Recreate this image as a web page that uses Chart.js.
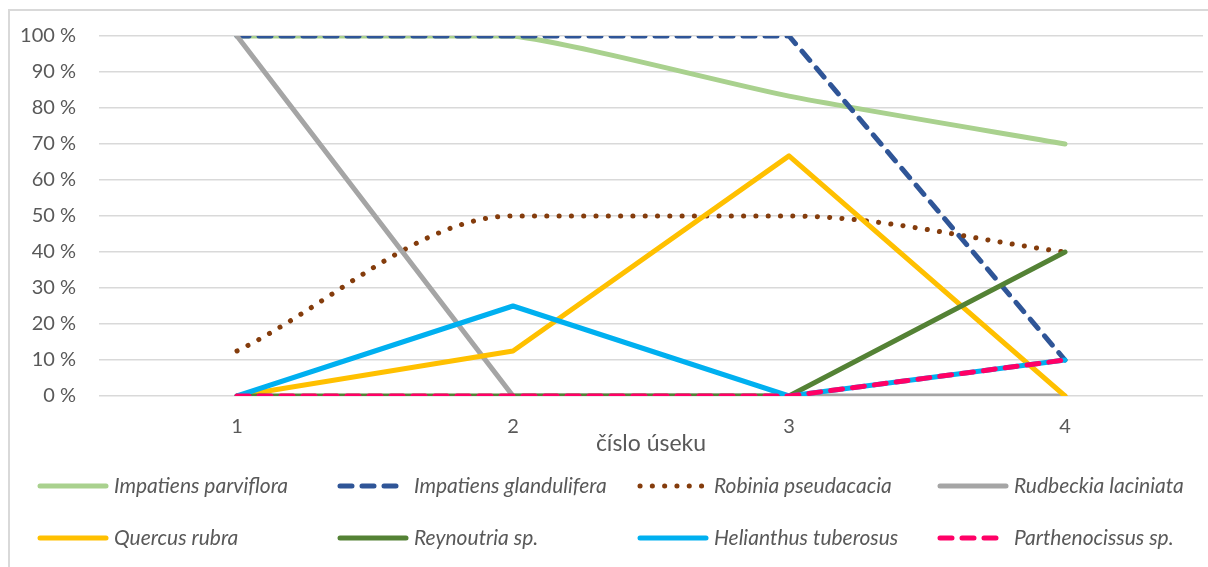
<!DOCTYPE html>
<html>
<head>
<meta charset="utf-8">
<script src="https://cdn.jsdelivr.net/npm/chart.js@4"></script>
<style>
    html, body { margin: 0; padding: 0; background: #ffffff; }
    #wrap { position: relative; width: 1208px; height: 567px; }
</style>
</head>
<body>
<div id="wrap"><canvas id="speciesChart" width="1208" height="567"></canvas></div>
<script>
// ---------------- DATA ----------------

const sections = ["1", "2", "3", "4"];

const impatiensParviflora = [100, 100, 83.3, 70];
const impatiensGlandulifera = [100, 100, 100, 10];
const robiniaPseudacacia = [12.5, 50, 50, 40];
const rudbeckiaLaciniata = [100, 0, 0, 0];
const quercusRubra = [0, 12.5, 66.7, 0];
const reynoutriaSp = [0, 0, 0, 40];
const helianthusTuberosus = [0, 25, 0, 10];
const parthenocissusSp = [0, 0, 0, 10];

const yTicks = [0, 10, 20, 30, 40, 50, 60, 70, 80, 90, 100];

const FONT = "Lato, 'Open Sans', sans-serif";
const TEXT_COLOR = "#595959";
const GRID_COLOR = "#D9D9D9";


// ---------------- SERIES ----------------

function series(label, data, color, extra) {
    return Object.assign({
        label: label,
        data: data,
        borderColor: color,
        backgroundColor: color,
        borderWidth: 5,
        pointRadius: 0,
        pointHoverRadius: 0,
        tension: 0,
        borderCapStyle: "round",
        borderJoinStyle: "round",
        fill: false
    }, extra || {});
}

const datasets = [
    series("Impatiens parviflora", impatiensParviflora, "#A9D18E", { tension: 0.2 }),
    series("Impatiens glandulifera", impatiensGlandulifera, "#2F5597", { borderDash: [12, 10] }),
    series("Robinia pseudacacia", robiniaPseudacacia, "#843C0C", { borderDash: [0.1, 12.2], cubicInterpolationMode: "monotone" }),
    series("Rudbeckia laciniata", rudbeckiaLaciniata, "#A5A5A5"),
    series("Quercus rubra", quercusRubra, "#FFC000"),
    series("Reynoutria sp.", reynoutriaSp, "#548235"),
    series("Helianthus tuberosus", helianthusTuberosus, "#00B0F0"),
    series("Parthenocissus sp.", parthenocissusSp, "#FF0066", { borderDash: [12, 10] })
];

// later series on top, like the original
datasets.forEach((ds, i) => { ds.order = -i; });


// ---------------- PLUGINS ----------------

const frame = {
    id: "frame",
    beforeDraw(chart) {
        const ctx = chart.ctx;
        ctx.save();
        ctx.strokeStyle = GRID_COLOR;
        ctx.lineWidth = 2;
        ctx.beginPath();
        ctx.moveTo(9, 567);
        ctx.lineTo(9, 10);
        ctx.lineTo(1208, 10);
        ctx.stroke();
        ctx.restore();
    }
};

const gridLegend = {
    id: "gridLegend",
    afterDraw(chart) {
        const ctx = chart.ctx;
        const colX = [37, 337, 637, 937];
        const rowY = [chart.chartArea.bottom + 90, chart.chartArea.bottom + 142];
        ctx.save();
        ctx.font = "italic 21px " + FONT;
        ctx.textBaseline = "middle";
        ctx.textAlign = "left";
        chart.data.datasets.forEach((ds, i) => {
            const x = colX[i % 4];
            const y = rowY[Math.floor(i / 4)];
            ctx.strokeStyle = ds.borderColor;
            ctx.lineWidth = ds.borderWidth;
            ctx.lineCap = "round";
            ctx.setLineDash(ds.borderDash || []);
            ctx.beginPath();
            ctx.moveTo(x + 3, y);
            ctx.lineTo(x + 69, y);
            ctx.stroke();
            ctx.setLineDash([]);
            ctx.fillStyle = TEXT_COLOR;
            ctx.fillText(ds.label, x + 77, y);
        });
        ctx.restore();
    }
};


// ---------------- CHART ----------------

new Chart(document.getElementById("speciesChart"), {
    type: "line",
    data: {
        labels: sections,
        datasets: datasets
    },
    options: {
        responsive: false,
        animation: false,
        layout: {
            padding: { top: 36, right: 5, bottom: 111, left: 0 }
        },
        plugins: {
            legend: { display: false },
            tooltip: { enabled: false }
        },
        scales: {
            x: {
                offset: true,
                grid: { display: false, drawTicks: false },
                border: { display: false },
                ticks: {
                    color: TEXT_COLOR,
                    font: { family: FONT, size: 20 },
                    padding: 19
                },
                title: {
                    display: true,
                    text: "číslo úseku",
                    color: TEXT_COLOR,
                    font: { family: FONT, size: 23 },
                    padding: { top: 0, bottom: -1 }
                },
                afterFit(scale) { scale.height = 60; }
            },
            y: {
                min: 0,
                max: 100,
                afterBuildTicks(scale) {
                    scale.ticks = yTicks.map(v => ({ value: v }));
                },
                grid: { color: GRID_COLOR, lineWidth: 1.5, drawTicks: false },
                border: { display: false },
                ticks: {
                    color: TEXT_COLOR,
                    font: { family: FONT, size: 20 },
                    padding: 23,
                    callback: v => v + " %"
                },
                afterFit(scale) { scale.width = 99; }
            }
        }
    },
    plugins: [frame, gridLegend]
});
</script>
</body>
</html>
